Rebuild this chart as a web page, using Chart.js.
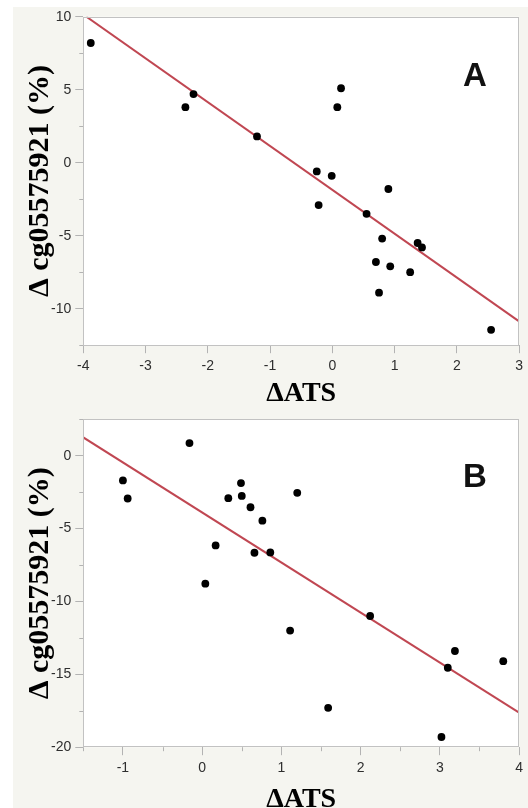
<!DOCTYPE html>
<html>
<head>
<meta charset="utf-8">
<script src="https://cdn.jsdelivr.net/npm/chart.js@4.4.1/dist/chart.umd.min.js"></script>
<style>
    html, body { margin: 0; padding: 0; background: #ffffff; }
    body { width: 528px; height: 808px; position: relative; overflow: hidden; }
    #painel { position: absolute; left: 13px; top: 7px; right: 0; bottom: 0; background: #f5f5f0; }
    canvas { position: absolute; left: 0; }
    #grafico-a { top: 0; }
    #grafico-b { top: 400px; }
    .letra {
        position: absolute; transform: translate(-50%, -50%);
        font: bold 33px "Liberation Sans", Arial, sans-serif; line-height: 1; color: #111;
    }
</style>
</head>
<body>
<div id="painel"></div>
<canvas id="grafico-a" width="528" height="420"></canvas>
<canvas id="grafico-b" width="528" height="430"></canvas>
<div class="letra" style="left:475px; top:74px;">A</div>
<div class="letra" style="left:475px; top:475px;">B</div>
<script>
// --- dados ---
// Painel A
const atsA = [-3.88, -2.36, -2.23, -1.21, -0.25, -0.22, -0.01, 0.08, 0.14, 0.55, 0.70, 0.75, 0.80, 0.90, 0.93, 1.25, 1.37, 1.44, 2.55];
const cgA  = [8.2, 3.8, 4.7, 1.8, -0.6, -2.9, -0.9, 3.8, 5.1, -3.5, -6.8, -8.9, -5.2, -1.8, -7.1, -7.5, -5.5, -5.8, -11.45];
const retaAtsA = [-3.95, 3.0];
const retaCgA  = [10.0, -10.87];

// Painel B
const atsB = [-1.0, -0.94, -0.16, 0.04, 0.17, 0.33, 0.49, 0.50, 0.61, 0.66, 0.76, 0.86, 1.11, 1.20, 1.59, 2.12, 3.02, 3.10, 3.19, 3.80];
const cgB  = [-1.7, -2.94, 0.86, -8.78, -6.16, -2.92, -1.88, -2.76, -3.54, -6.66, -4.46, -6.64, -12.0, -2.55, -17.3, -11.0, -19.3, -14.55, -13.4, -14.1];
const retaAtsB = [-1.5, 4.0];
const retaCgB  = [1.25, -17.63];

const tituloX = 'ΔATS';
const tituloY = 'Δ cg05575921 (%)';

const COR_MOLDURA = '#c2c2c2';
const COR_TICK = '#b3b3b3';

// fundo branco, moldura e ticks menores
const moldura = {
    id: 'moldura',
    beforeDraw(chart) {
        const { ctx, chartArea: a } = chart;
        ctx.save();
        ctx.fillStyle = '#ffffff';
        ctx.fillRect(a.left, a.top, a.width, a.height);
        ctx.restore();
    },
    afterDraw(chart, args, opts) {
        const { ctx, chartArea: a, scales } = chart;
        ctx.save();
        ctx.lineWidth = 1;
        ctx.strokeStyle = COR_TICK;
        ctx.beginPath();
        if (opts.menorX) {
            const s = scales.x;
            for (let v = s.min; v <= s.max + 1e-9; v += opts.menorX) {
                if (Math.abs(v - Math.round(v)) < 1e-6) continue;
                const px = Math.round(s.getPixelForValue(v)) + 0.5;
                ctx.moveTo(px, a.bottom);
                ctx.lineTo(px, a.bottom + 4);
            }
        }
        if (opts.menorY) {
            const s = scales.y;
            for (let v = s.min; v <= s.max + 1e-9; v += opts.menorY) {
                if (Math.abs(v % 5) < 1e-6) continue;
                const py = Math.round(s.getPixelForValue(v)) + 0.5;
                ctx.moveTo(a.left - 4, py);
                ctx.lineTo(a.left, py);
            }
        }
        ctx.stroke();
        ctx.strokeStyle = COR_MOLDURA;
        ctx.strokeRect(Math.round(a.left) + 0.5, Math.round(a.top) + 0.5,
                       Math.round(a.width) - 1, Math.round(a.height) - 1);
        ctx.restore();
    }
};

function pares(xs, ys) {
    return xs.map((x, i) => ({ x: x, y: ys[i] }));
}

function criarGrafico(canvasId, cfg) {
    const fonteTick = { family: '"Liberation Sans", Arial, sans-serif', size: 14 };
    const fonteTitulo = { family: '"Liberation Serif", "Times New Roman", serif', size: 28, weight: 'bold' };
    const fonteTituloY = { family: '"Liberation Serif", "Times New Roman", serif', size: 30, weight: 'bold' };
    return new Chart(document.getElementById(canvasId), {
        type: 'scatter',
        data: {
            datasets: [{
                data: pares(cfg.xs, cfg.ys),
                backgroundColor: '#000000',
                borderWidth: 0,
                pointRadius: 3.9
            }, {
                data: pares(cfg.retaX, cfg.retaY),
                showLine: true,
                borderColor: '#c04752',
                borderWidth: 2,
                pointRadius: 0
            }]
        },
        options: {
            responsive: false,
            animation: false,
            layout: { padding: { left: 0, right: 8.7, top: cfg.padTop, bottom: cfg.padBottom } },
            plugins: {
                legend: { display: false },
                tooltip: { enabled: false },
                moldura: { menorX: cfg.menorX, menorY: 2.5 }
            },
            scales: {
                x: {
                    type: 'linear',
                    min: cfg.xMin, max: cfg.xMax,
                    border: { display: false },
                    grid: { drawOnChartArea: false, tickLength: 8, tickColor: COR_TICK },
                    ticks: { stepSize: 1, includeBounds: false, padding: 5, color: '#2e2e2e', font: fonteTick },
                    title: { display: true, text: tituloX, color: '#000', font: fonteTitulo, padding: { top: 0, bottom: 0 } },
                    afterFit: s => { s.height = cfg.alturaX; }
                },
                y: {
                    type: 'linear',
                    min: cfg.yMin, max: cfg.yMax,
                    border: { display: false },
                    grid: { drawOnChartArea: false, tickLength: 8, tickColor: COR_TICK },
                    ticks: { stepSize: 5, includeBounds: false, padding: 4, color: '#2e2e2e', font: fonteTick },
                    title: { display: true, text: tituloY, color: '#000', font: fonteTituloY, padding: { top: 22, bottom: 0 } },
                    afterFit: s => { s.width = 83.3; }
                }
            }
        },
        plugins: [moldura]
    });
}

criarGrafico('grafico-a', {
    xs: atsA, ys: cgA, retaX: retaAtsA, retaY: retaCgA,
    xMin: -4, xMax: 3, yMin: -12.5, yMax: 10,
    menorX: 0, padTop: 16.7, padBottom: 9.2, alturaX: 65.6
});

criarGrafico('grafico-b', {
    xs: atsB, ys: cgB, retaX: retaAtsB, retaY: retaCgB,
    xMin: -1.5, xMax: 4, yMin: -20, yMax: 2.5,
    menorX: 0.5, padTop: 19.2, padBottom: 13.2, alturaX: 69.6
});
</script>
</body>
</html>
